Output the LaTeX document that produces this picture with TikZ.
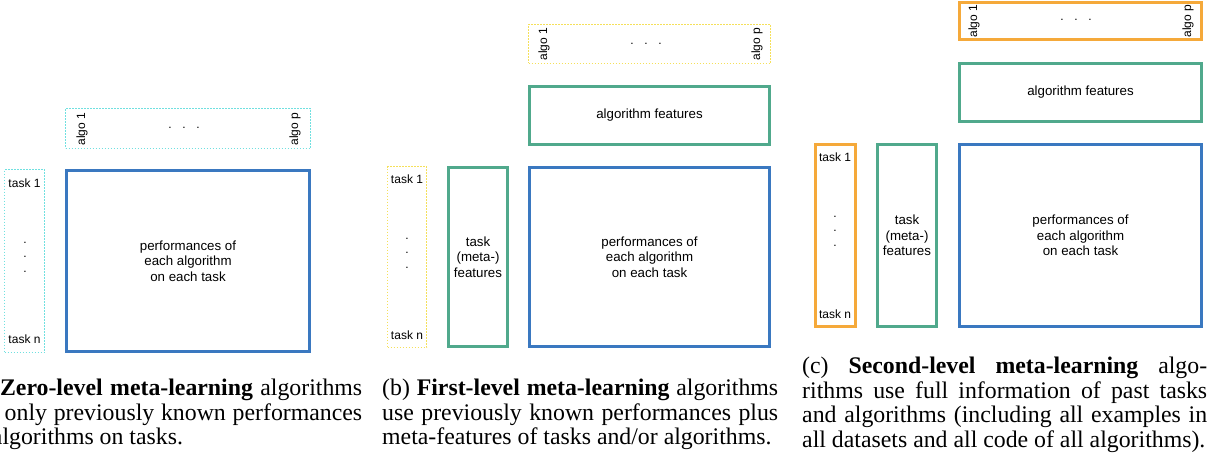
\documentclass[tikz,border=0pt]{standalone}
\usepackage{fontspec}
\setmainfont{Liberation Serif}
\setsansfont{Liberation Sans}
\definecolor{perfblue}{HTML}{3A78C0}
\definecolor{featgreen}{HTML}{50A98C}
\definecolor{algoorange}{HTML}{F5A93A}
\definecolor{dotcyan}{HTML}{70E0E0}
\definecolor{dotyellow}{HTML}{F5E05A}
\tikzset{
  perfbox/.style={draw=perfblue, line width=3pt, inner sep=0pt, align=center, font=\sffamily\fontsize{13.3}{15.5}\selectfont},
  featbox/.style={draw=featgreen, line width=3pt, inner sep=0pt, align=center, font=\sffamily\fontsize{13.3}{15.5}\selectfont},
  idbox/.style={draw=algoorange, line width=3pt, inner sep=0pt},
  dotbox/.style={draw=#1, line width=0.9pt, dash pattern=on 1.2pt off 1.8pt, inner sep=0pt},
  lbl/.style={font=\sffamily\fontsize{12}{14}\selectfont, inner sep=0pt},
  vdots/.style={font=\sffamily\fontsize{12}{14.5}\selectfont, inner sep=0pt, align=center},
  captext/.style={text width=396pt, align=justify, inner sep=0pt, anchor=north west, font=\fontsize{23.8}{24.5}\selectfont}
}
\newcommand{\hdotsx}{.\hspace{10.7pt}.\hspace{10.7pt}.}
\begin{document}
\begin{tikzpicture}[x=1pt,y=-1pt]
\useasboundingbox (0,0) rectangle (1209,460);
\clip (0,0) rectangle (1209,460);
% ---------- (a) ----------
\node[dotbox=dotcyan, minimum width=245pt, minimum height=40pt] (a-algo) at (188,128.5) {};
\node[dotbox=dotcyan, minimum width=40pt, minimum height=183pt] (a-task) at (24.5,261) {};
\node[perfbox, minimum width=243pt, minimum height=181pt] (a-perf) at (188,261) {performances of\\each algorithm\\on each task};
\node[lbl, rotate=90] (a-a1) at (82,129) {algo 1};
\node[lbl, rotate=90] (a-ap) at (295,129) {algo p};
\node[lbl] (a-hd) at (184,128) {\hdotsx};
\node[lbl] (a-t1) at (24.5,183) {task 1};
\node[lbl] (a-tn) at (24.5,339) {task n};
\node[vdots] (a-vd) at (25,257) {.\\.\\.};
% ---------- (b) ----------
\node[dotbox=dotyellow, minimum width=242pt, minimum height=39pt] (b-algo) at (649.5,44) {};
\node[featbox, minimum width=240pt, minimum height=58pt] (b-afeat) at (649.5,115.5) {algorithm features};
\node[dotbox=dotyellow, minimum width=39pt, minimum height=181pt] (b-task) at (407,257) {};
\node[featbox, minimum width=59pt, minimum height=179pt] (b-tfeat) at (478,257) {task\\(meta-)\\features};
\node[perfbox, minimum width=240pt, minimum height=179pt] (b-perf) at (649.5,257) {performances of\\each algorithm\\on each task};
\node[lbl, rotate=90] (b-a1) at (544,44) {algo 1};
\node[lbl, rotate=90] (b-ap) at (757,44) {algo p};
\node[lbl] (b-hd) at (646,44) {\hdotsx};
\node[lbl] (b-t1) at (407,179) {task 1};
\node[lbl] (b-tn) at (407,335) {task n};
\node[vdots] (b-vd) at (407,253) {.\\.\\.};
% ---------- (c) ----------
\node[idbox, minimum width=242pt, minimum height=37pt] (c-algo) at (1080.5,21) {};
\node[featbox, minimum width=242pt, minimum height=58pt] (c-afeat) at (1080.5,92.5) {algorithm features};
\node[idbox, minimum width=40pt, minimum height=182pt] (c-task) at (835.5,235.5) {};
\node[featbox, minimum width=59pt, minimum height=182pt] (c-tfeat) at (907,235.5) {task\\(meta-)\\features};
\node[perfbox, minimum width=242pt, minimum height=182pt] (c-perf) at (1080.5,235.5) {performances of\\each algorithm\\on each task};
\node[lbl, rotate=90] (c-a1) at (974,21) {algo 1};
\node[lbl, rotate=90] (c-ap) at (1188,21) {algo p};
\node[lbl] (c-hd) at (1076,20) {\hdotsx};
\node[lbl] (c-t1) at (835,157) {task 1};
\node[lbl] (c-tn) at (835,314) {task n};
\node[vdots] (c-vd) at (835,231) {.\\.\\.};
% ---------- captions ----------
\node[captext] (cap-a) at (-34,379) {(a) \textbf{Zero-level meta-learning} algorithms\linebreak use only previously known performances\linebreak of algorithms on tasks.};
\node[captext] (cap-b) at (382,379) {(b) \textbf{First-level meta-learning} algorithms\linebreak use previously known performances plus\linebreak meta-features of tasks and/or algorithms.};
\node[captext, text width=405pt] (cap-c) at (802,357) {(c) \textbf{Second-level meta-learning} algo-\linebreak rithms use full information of past tasks\linebreak and algorithms (including all examples in\linebreak all datasets and all code of all algorithms).};
\end{tikzpicture}
\end{document}
